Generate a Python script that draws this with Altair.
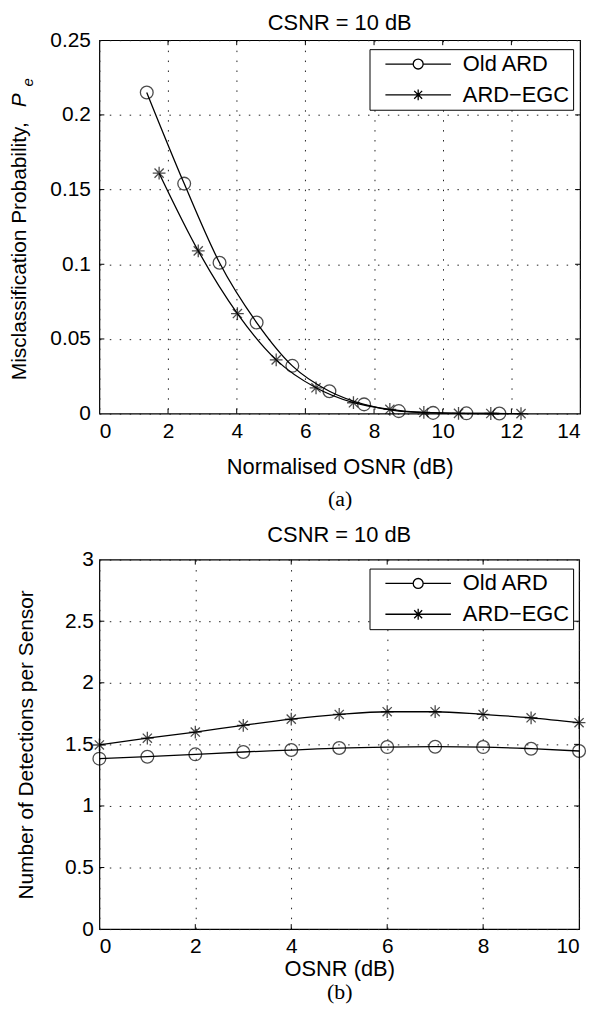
import altair as alt
import pandas as pd

SERIES = ["Old ARD", "ARD\u2212EGC"]

# ---- panel (a) ----
a_old_x = [1.38, 2.47, 3.50, 4.58, 5.62, 6.70, 7.71, 8.72, 9.72, 10.69, 11.65]
a_old_y = [0.215, 0.154, 0.101, 0.061, 0.032, 0.015, 0.0062, 0.0017, 0.0005, 0.0002, 0.0001]
a_egc_x = [1.74, 2.88, 4.02, 5.15, 6.31, 7.40, 8.46, 9.45, 10.46, 11.40, 12.28]
a_egc_y = [0.161, 0.109, 0.067, 0.036, 0.0173, 0.0073, 0.0029, 0.0008, 0.0002, 0.0001, 0.0]
a_xticks = [0, 2, 4, 6, 8, 10, 12, 14]
a_yticks = [0, 0.05, 0.1, 0.15, 0.2, 0.25]

# ---- panel (b) ----
b_x = [0, 1, 2, 3, 4, 5, 6, 7, 8, 9, 10]
b_old = [1.384, 1.400, 1.419, 1.438, 1.454, 1.470, 1.478, 1.481, 1.478, 1.465, 1.446]
b_egc = [1.495, 1.550, 1.600, 1.655, 1.705, 1.743, 1.765, 1.765, 1.743, 1.716, 1.676]
b_xticks = [0, 2, 4, 6, 8, 10]
b_yticks = [0, 0.5, 1, 1.5, 2, 2.5, 3]

FONT = "Liberation Sans"
SERIF = "Liberation Serif"
CIRCLE = "M-1,0A1,1,0,1,1,1,0A1,1,0,1,1,-1,0Z"
STAR = "M0,-1L0,1M-1,0L1,0M-0.72,-0.72L0.72,0.72M-0.72,0.72L0.72,-0.72"
L_CIRCLE = "M-6.6,0L-1,0M1,0L6.6,0M-1,0A1,1,0,1,1,1,0A1,1,0,1,1,-1,0"
L_STAR = "M-6.6,0L6.6,0M0,-1.1L0,1.1M-0.8,-0.8L0.8,0.8M-0.8,0.8L0.8,-0.8"
LBL = "format(datum.value, '~g')"
TICK = 5


def make_df(xa, ya, xb, yb):
    return pd.DataFrame({
        "x": list(xa) + list(xb),
        "y": list(ya) + list(yb),
        "series": [SERIES[0]] * len(xa) + [SERIES[1]] * len(xb),
    })


def text_axis(text, tx, ty, size, style="normal"):
    return alt.Axis(orient="left", labels=False, ticks=False, domain=False, grid=False,
                    title=text, titleX=tx, titleY=ty, titleAngle=270,
                    titleAlign="center", titleBaseline="bottom",
                    titleFontSize=size, titleFontStyle=style)


def panel(df, xticks, yticks, w, h, xtitle, ytitle, caption,
          lab_pad_y, y_title_kw, title_pad_x, cap_pad, legx, legy, title_offset,
          extra_y=()):
    xs = alt.Scale(domain=[xticks[0], xticks[-1]], nice=False, zero=False)
    ys = alt.Scale(domain=[yticks[0], yticks[-1]], nice=False, zero=False)
    xt = pd.DataFrame({"v": xticks[1:-1]})
    yt = pd.DataFrame({"v": yticks[1:-1]})
    mid = (xticks[0] + xticks[-1]) / 2

    base = alt.Chart(df)
    lines = base.mark_line(color="black", strokeWidth=1.3, interpolate="monotone").encode(
        x=alt.X("x:Q", scale=xs, axis=alt.Axis(
            orient="bottom", values=xticks, labelExpr=LBL, title=xtitle, grid=True,
            ticks=False, domain=False, labelPadding=7, titlePadding=title_pad_x)),
        y=alt.Y("y:Q", scale=ys, axis=alt.Axis(
            orient="left", values=yticks, labelExpr=LBL, title=ytitle, grid=True,
            ticks=False, domain=False, labelPadding=lab_pad_y, **y_title_kw)),
        detail="series:N")
    pts = base.mark_point(filled=False, color="black", strokeWidth=1.3, size=165).encode(
        x=alt.X("x:Q", scale=xs, axis=None),
        y=alt.Y("y:Q", scale=ys, axis=None),
        shape=alt.Shape("series:N", scale=alt.Scale(domain=SERIES, range=[CIRCLE, STAR]), legend=None))
    # invisible layer that only carries the legend (line + marker symbols)
    leg = base.transform_filter(
        f"abs(datum.x - {mid}) < 2").mark_point(
        filled=False, color="black", strokeWidth=1.3, opacity=0).encode(
        x=alt.X("x:Q", scale=xs, axis=None),
        y=alt.Y("y:Q", scale=ys, axis=None),
        shape=alt.Shape("series:N", scale=alt.Scale(domain=SERIES, range=[L_CIRCLE, L_STAR]),
                        legend=alt.Legend(
                            title=None, orient="none", legendX=legx, legendY=legy,
                            symbolSize=100, symbolOffset=34, labelOffset=34,
                            symbolStrokeWidth=1.3, symbolStrokeColor="black",
                            symbolOpacity=1, symbolFillColor="transparent",
                            labelFont=FONT, labelFontSize=22, labelColor="black",
                            labelLimit=300,
                            padding=4, rowPadding=9, strokeColor="black",
                            fillColor="white", cornerRadius=0)))
    cap = base.transform_filter(
        f"abs(datum.x - {mid}) < 2").mark_point(opacity=0).encode(
        x=alt.X("x:Q", scale=xs, axis=alt.Axis(
            orient="bottom", labels=False, ticks=False, domain=False, grid=False,
            title=caption, titleFont=SERIF, titleFontSize=22, titleFontWeight="normal",
            titlePadding=cap_pad)),
        y=alt.Y("y:Q", scale=ys, axis=text_axis(*extra_y[0]) if extra_y else None))

    # inward MATLAB-style ticks on all four sides
    rule = dict(color="black", strokeWidth=1)
    t_top = alt.Chart(xt).mark_rule(**rule).encode(
        x=alt.X("v:Q", scale=xs, axis=None), y=alt.value(0), y2=alt.value(TICK))
    t_bot = alt.Chart(xt).mark_rule(**rule).encode(
        x=alt.X("v:Q", scale=xs, axis=None), y=alt.value(h), y2=alt.value(h - TICK))
    t_lft = alt.Chart(yt).mark_rule(**rule).encode(
        y=alt.Y("v:Q", scale=ys, axis=None), x=alt.value(0), x2=alt.value(TICK))
    t_rgt = alt.Chart(yt).mark_rule(**rule).encode(
        y=alt.Y("v:Q", scale=ys, axis=None), x=alt.value(w), x2=alt.value(w - TICK))

    layers = [lines, t_top, t_bot, t_lft, t_rgt, pts, leg, cap]
    for ex in extra_y[1:]:
        layers.append(base.transform_filter(
            f"abs(datum.x - {mid}) < 2").mark_point(opacity=0).encode(
            x=alt.X("x:Q", scale=xs, axis=None),
            y=alt.Y("y:Q", scale=ys, axis=text_axis(*ex))))

    return alt.layer(*layers).resolve_scale(
        shape="independent").resolve_axis(x="independent", y="independent").properties(
        width=w, height=h,
        title=alt.Title("CSNR = 10 dB", font=FONT, fontSize=22, fontWeight="normal",
                        color="black", offset=title_offset))


df_a = make_df(a_old_x, a_old_y, a_egc_x, a_egc_y)
df_b = make_df(b_x, b_old, b_x, b_egc)

top = panel(df_a, a_xticks, a_yticks, 484, 376, "Normalised OSNR (dB)",
            "Misclassification Probability,", "(a)",
            9, dict(titleX=-70, titleY=212, titleAlign="center", titleBaseline="bottom",
                    titleAngle=270, titleFontSize=21),
            15, 75, 272, 9, -6,
            extra_y=[("P", -70, 60, 21, "italic"), ("e", -64, 42, 15, "italic")])
bot = panel(df_b, b_xticks, b_yticks, 483, 372, "OSNR (dB)",
            "Number of Detections per Sensor", "(b)",
            6, dict(titlePadding=28, titleFontSize=21),
            2, 53, 272, 9, 2)

chart = alt.concat(top, bot, columns=1, spacing=13, align="none").properties(
    padding=0).configure_view(
    stroke="black", strokeWidth=1.2).configure_axis(
    labelFont=FONT, labelFontSize=21, labelColor="black",
    titleFont=FONT, titleFontSize=22, titleFontWeight="normal", titleColor="black",
    gridColor="#222222", gridDash=[1.5, 8.5], gridWidth=1, gridOpacity=1)

chart.save("out.html", embed_options={"renderer": "svg", "actions": False})
